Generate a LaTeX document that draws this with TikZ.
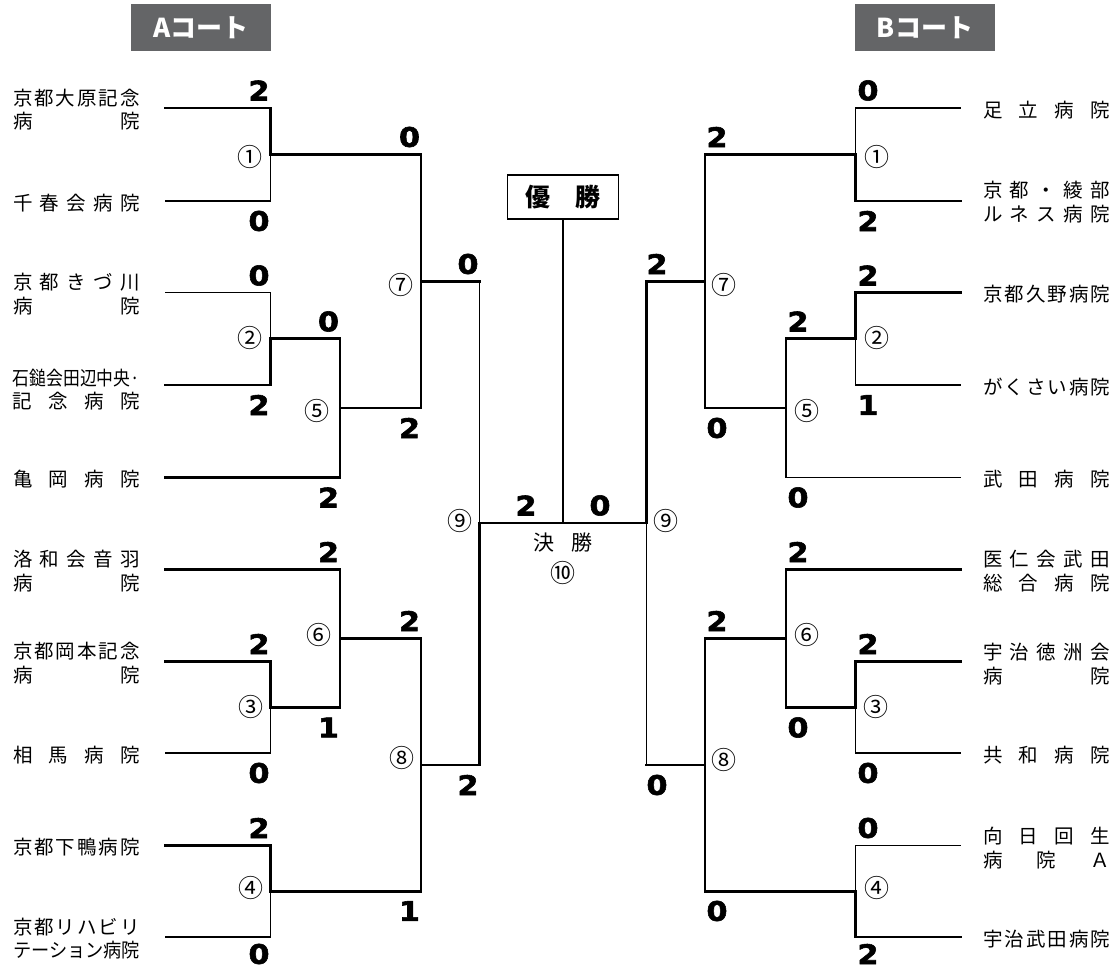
\documentclass[tikz,border=0pt]{standalone}
\usepackage{fontspec}
\usepackage{graphicx}
\setmainfont{Noto Sans CJK JP}
\newfontfamily\scorefont{DejaVu Sans Bold}[FakeBold=2.2, FakeStretch=1.12]
\definecolor{hdr}{HTML}{646567}
\def\sprdfirst#1{#1\sprdrest}
\def\sprdrest#1{\ifx\relax#1\else\hfill#1\expandafter\sprdrest\fi}
\newcommand\sprd[1]{\makebox[127pt][l]{\sprdfirst#1\relax}}
\newcommand\fitw[1]{\resizebox{127pt}{\height}{#1}}
\newcommand\twoline[2]{\vbox{\hsize=127pt\baselineskip=23.5pt\lineskiplimit=-50pt\lineskip=0pt\hbox{#1}\hbox{#2}}}
\tikzset{
  win/.style={line width=2.6pt, line cap=rect},
  lose/.style={line width=1.1pt, line cap=rect},
  score/.style={font=\scorefont\fontsize{27pt}{27pt}\selectfont, inner sep=0pt},
  circ/.style={font=\fontsize{25pt}{25pt}\selectfont, inner sep=0pt},
  team/.style={font=\fontsize{19.5pt}{23.5pt}\selectfont, inner sep=0pt},
  court/.style={fill=hdr, text=white, minimum width=140pt, minimum height=47pt, inner sep=0pt, font=\bfseries\fontsize{26pt}{26pt}\selectfont},
}
\begin{document}
\begin{tikzpicture}[x=1pt, y=-1pt]
\useasboundingbox (0,0) rectangle (1120,970);
% headers
\node[court] (hA) at (201,27.5) {Aコート};
\node[court] (hB) at (925,27.5) {Bコート};
% ---------- coordinates ----------
\foreach \i/\y/\e in {1/108/270.5, 2/201/270.5, 3/292.5/270.5, 4/385/270.5, 5/477.5/340, 6/569.5/340, 7/661.5/270.5, 8/753/270.5, 9/845.5/270.5, 10/937/270.5}{
  \coordinate (LS\i) at (165.5,\y);
  \coordinate (LE\i) at (\e,\y);
  \coordinate (RS\i) at (960.5,\y);
  \coordinate (RE\i) at ({1126-\e},\y);
}
\foreach \k/\x/\y/\o in {1/270.5/154.5/421, 2/270.5/338.75/340, 3/270.5/707.25/340, 4/270.5/891.25/421, 5/340/408.1/421, 6/340/638.4/421, 7/421/281.3/479.5, 8/421/764.8/479.5}{
  \coordinate (LJ\k) at (\x,\y);
  \coordinate (LO\k) at (\o,\y);
  \coordinate (RJ\k) at ({1126-\x},\y);
  \coordinate (RO\k) at ({1126-\o},\y);
}
\coordinate (LJ9) at (479.5,523);
\coordinate (RJ9) at (646.5,523);
\coordinate (F) at (563,523);
% ---------- left bracket ----------
\draw[win] (LS1) -- (LE1);  \draw[lose] (LS2) -- (LE2);
\draw[lose] (LS3) -- (LE3); \draw[win] (LS4) -- (LE4);
\draw[win] (LS5) -- (LE5);  \draw[win] (LS6) -- (LE6);
\draw[win] (LS7) -- (LE7);  \draw[lose] (LS8) -- (LE8);
\draw[win] (LS9) -- (LE9);  \draw[lose] (LS10) -- (LE10);
\draw[win] (LE1) -- (LJ1); \draw[lose] (LJ1) -- (LE2); \draw[win] (LJ1) -- (LO1);
\draw[lose] (LE3) -- (LJ2); \draw[win] (LJ2) -- (LE4); \draw[win] (LJ2) -- (LO2);
\draw[win] (LE7) -- (LJ3); \draw[lose] (LJ3) -- (LE8); \draw[win] (LJ3) -- (LO3);
\draw[win] (LE9) -- (LJ4); \draw[lose] (LJ4) -- (LE10); \draw[win] (LJ4) -- (LO4);
\draw[lose] (LO2) -- (LJ5); \draw[win] (LJ5) -- (LE5); \draw[win] (LJ5) -- (LO5);
\draw[win] (LE6) -- (LJ6); \draw[lose] (LJ6) -- (LO3); \draw[win] (LJ6) -- (LO6);
\draw[lose] (LO1) -- (LJ7); \draw[win] (LJ7) -- (LO5); \draw[win] (LJ7) -- (LO7);
\draw[win] (LO6) -- (LJ8); \draw[lose] (LJ8) -- (LO4); \draw[win] (LJ8) -- (LO8);
\draw[lose] (LO7) -- (LJ9); \draw[win] (LJ9) -- (LO8); \draw[win] (LJ9) -- (F);
% ---------- right bracket ----------
\draw[lose] (RS1) -- (RE1); \draw[win] (RS2) -- (RE2);
\draw[win] (RS3) -- (RE3);  \draw[lose] (RS4) -- (RE4);
\draw[lose] (RS5) -- (RE5); \draw[win] (RS6) -- (RE6);
\draw[win] (RS7) -- (RE7);  \draw[lose] (RS8) -- (RE8);
\draw[lose] (RS9) -- (RE9); \draw[win] (RS10) -- (RE10);
\draw[lose] (RE1) -- (RJ1); \draw[win] (RJ1) -- (RE2); \draw[win] (RJ1) -- (RO1);
\draw[win] (RE3) -- (RJ2); \draw[lose] (RJ2) -- (RE4); \draw[win] (RJ2) -- (RO2);
\draw[win] (RE7) -- (RJ3); \draw[lose] (RJ3) -- (RE8); \draw[win] (RJ3) -- (RO3);
\draw[lose] (RE9) -- (RJ4); \draw[win] (RJ4) -- (RE10); \draw[win] (RJ4) -- (RO4);
\draw[win] (RO2) -- (RJ5); \draw[lose] (RJ5) -- (RE5); \draw[win] (RJ5) -- (RO5);
\draw[win] (RE6) -- (RJ6); \draw[lose] (RJ6) -- (RO3); \draw[win] (RJ6) -- (RO6);
\draw[win] (RO1) -- (RJ7); \draw[lose] (RJ7) -- (RO5); \draw[win] (RJ7) -- (RO7);
\draw[win] (RO6) -- (RJ8); \draw[lose] (RJ8) -- (RO4); \draw[win] (RJ8) -- (RO8);
\draw[win] (RO7) -- (RJ9); \draw[lose] (RJ9) -- (RO8); \draw[lose] (RJ9) -- (F);
% ---------- champion ----------
\node[draw, line width=1.2pt, minimum width=111pt, minimum height=44pt, inner sep=0pt,
      font=\bfseries\fontsize{25pt}{25pt}\selectfont] (champ) at (563,197) {優\hspace{25pt}勝};
\draw[line width=1.8pt] (champ.south) -- (F);
\node[inner sep=0pt, font=\fontsize{21pt}{21pt}\selectfont] (final) at (563,543) {決\hspace{17pt}勝};
\node[circ] (c10) at (563,573) {⑩};
% ---------- circled match numbers ----------
\node[circ] (cl1) at (250,157) {①};
\node[circ] (cl2) at (250,338) {②};
\node[circ] (cl3) at (251,707) {③};
\node[circ] (cl4) at (251,888) {④};
\node[circ] (cl5) at (317,411) {⑤};
\node[circ] (cl6) at (319,635) {⑥};
\node[circ] (cl7) at (401,285) {⑦};
\node[circ] (cl8) at (402,758) {⑧};
\node[circ] (cl9) at (460,521) {⑨};
\node[circ] (cr1) at (877,157) {①};
\node[circ] (cr2) at (877,338) {②};
\node[circ] (cr3) at (876,707) {③};
\node[circ] (cr4) at (877,888) {④};
\node[circ] (cr5) at (807,411) {⑤};
\node[circ] (cr6) at (807,635) {⑥};
\node[circ] (cr7) at (724,285) {⑦};
\node[circ] (cr8) at (724,760) {⑧};
\node[circ] (cr9) at (666,521) {⑨};
% ---------- scores left ----------
\node[score] (sl1a) at (259,90.5) {2};   \node[score] (sl1b) at (259,221) {0};
\node[score] (sl2a) at (259,275.5) {0};  \node[score] (sl2b) at (259,405) {2};
\node[score] (sl3a) at (259,644) {2};    \node[score] (sl3b) at (259,773) {0};
\node[score] (sl4a) at (259,828) {2};    \node[score] (sl4b) at (259,954) {0};
\node[score] (sl5a) at (328.5,321.5) {0}; \node[score] (sl5b) at (328.5,497.5) {2};
\node[score] (sl6a) at (328.5,552) {2};  \node[score] (sl6b) at (328.5,727.5) {1};
\node[score] (sl7a) at (409.5,137) {0};  \node[score] (sl7b) at (409.5,428) {2};
\node[score] (sl8a) at (409.5,621) {2};  \node[score] (sl8b) at (409.5,911) {1};
\node[score] (sl9a) at (468,264) {0};    \node[score] (sl9b) at (468,785) {2};
\node[score] (sfl) at (526,505.5) {2};   \node[score] (sfr) at (600,505.5) {0};
% ---------- scores right ----------
\node[score] (sr1a) at (868,90.5) {0};   \node[score] (sr1b) at (868,221) {2};
\node[score] (sr2a) at (868,275.5) {2};  \node[score] (sr2b) at (868,405) {1};
\node[score] (sr3a) at (868,644) {2};    \node[score] (sr3b) at (868,773) {0};
\node[score] (sr4a) at (868,828) {0};    \node[score] (sr4b) at (868,954) {2};
\node[score] (sr5a) at (798,321.5) {2};  \node[score] (sr5b) at (798,497.5) {0};
\node[score] (sr6a) at (798,552) {2};    \node[score] (sr6b) at (798,727.5) {0};
\node[score] (sr7a) at (717,137) {2};    \node[score] (sr7b) at (717,428) {0};
\node[score] (sr8a) at (717,621) {2};    \node[score] (sr8b) at (717,911) {0};
\node[score] (sr9a) at (657,264) {2};    \node[score] (sr9b) at (657,785) {0};
% ---------- team names left ----------
\node[team] (tl1) at (76.5,109.5) {\twoline{\sprd{京都大原記念}}{\sprd{病院}}};
\node[team] (tl2) at (76.5,203) {\sprd{千春会病院}};
\node[team] (tl3) at (76.5,294) {\twoline{\sprd{京都きづ川}}{\sprd{病院}}};
\node[team] (tl4) at (76.5,389.5) {\twoline{\fitw{石鎚会田辺中央·}}{\sprd{記念病院}}};
\node[team] (tl5) at (76.5,479.5) {\sprd{亀岡病院}};
\node[team] (tl6) at (76.5,571) {\twoline{\sprd{洛和会音羽}}{\sprd{病院}}};
\node[team] (tl7) at (76.5,663) {\twoline{\sprd{京都岡本記念}}{\sprd{病院}}};
\node[team] (tl8) at (76.5,755) {\sprd{相馬病院}};
\node[team] (tl9) at (76.5,847.5) {\sprd{京都下鴨病院}};
\node[team] (tl10) at (76.5,938.5) {\twoline{\sprd{京都リハビリ}}{\fitw{テーション病院}}};
% ---------- team names right ----------
\node[team] (tr1) at (1046.5,110) {\sprd{足立病院}};
\node[team] (tr2) at (1046.5,202) {\twoline{\sprd{京都・綾部}}{\sprd{ルネス病院}}};
\node[team] (tr3) at (1046.5,294.5) {\sprd{京都久野病院}};
\node[team] (tr4) at (1046.5,387) {\sprd{がくさい病院}};
\node[team] (tr5) at (1046.5,479.5) {\sprd{武田病院}};
\node[team] (tr6) at (1046.5,571) {\twoline{\sprd{医仁会武田}}{\sprd{総合病院}}};
\node[team] (tr7) at (1046.5,664) {\twoline{\sprd{宇治徳洲会}}{\sprd{病院}}};
\node[team] (tr8) at (1046.5,755) {\sprd{共和病院}};
\node[team] (tr9) at (1046.5,848) {\twoline{\sprd{向日回生}}{\sprd{病院Ａ}}};
\node[team] (tr10) at (1046.5,939) {\sprd{宇治武田病院}};
\end{tikzpicture}
\end{document}
